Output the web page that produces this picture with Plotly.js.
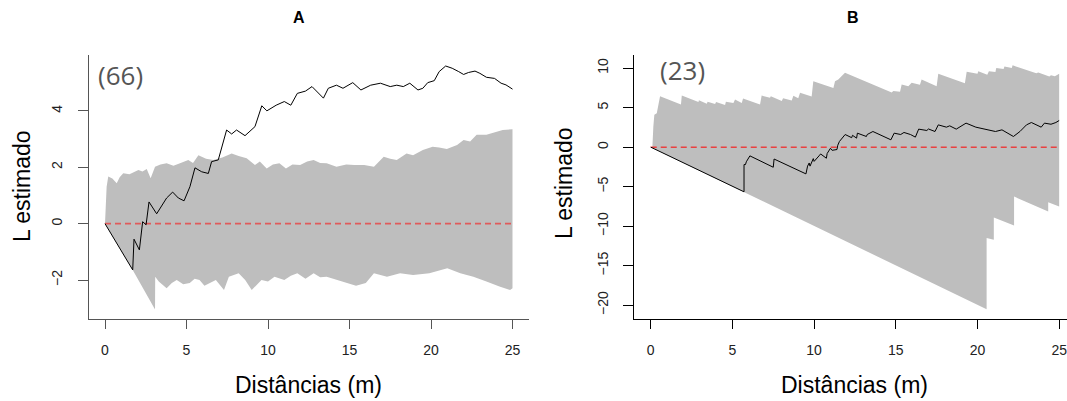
<!DOCTYPE html>
<html>
<head>
<meta charset="utf-8">
<script src="https://cdn.plot.ly/plotly-3.0.1.min.js"></script>
<style>html,body{margin:0;padding:0;background:#fff;}#chart{width:1067px;height:401px;}</style>
</head>
<body>
<div id="chart"></div>
<script>
// ---------- Panel A data ----------
const A_obs_x = [0,1.70,1.78,2.11,2.31,2.52,2.70,3.17,3.78,4.15,4.50,4.85,5.21,5.52,5.93,6.34,6.54,6.95,7.46,7.77,8.07,8.59,9.2,9.62,9.93,10.5,11.0,11.4,11.8,12.3,12.7,13.1,13.4,13.7,14.2,14.6,15.2,15.7,16.3,16.9,17.5,17.9,18.3,18.7,19.2,19.5,19.8,20.2,20.5,20.9,21.3,21.7,22.0,22.3,22.7,23.0,23.4,23.9,24.3,24.6,25];
const A_obs_y = [0,-1.64,-0.55,-0.93,0.07,-0.04,0.77,0.35,0.91,1.12,0.91,0.81,1.31,1.98,1.84,1.78,2.20,2.26,3.32,3.18,3.32,3.12,3.44,4.18,4.0,4.2,4.33,4.2,4.62,4.7,4.86,4.62,4.45,4.8,4.91,4.8,5.0,4.74,4.91,4.98,4.86,4.91,4.86,4.98,4.74,4.80,5.0,5.07,5.39,5.59,5.51,5.39,5.29,5.36,5.41,5.33,5.19,5.15,4.98,4.92,4.77];
const A_hi_x = [0,0.05,0.1,0.2,0.45,0.72,0.9,1.12,1.5,2.05,2.3,2.56,2.8,3.07,3.4,3.78,4.2,4.6,5.11,5.4,5.73,6.2,6.65,7.2,7.77,8.2,8.69,9.2,9.5,9.92,10.3,10.7,11.1,11.5,11.97,12.4,12.8,13.2,13.6,14.2,14.8,15.3,15.9,16.5,17.1,17.5,17.9,18.5,18.9,19.5,20.1,20.5,20.97,21.6,22.0,22.4,22.8,23.4,24.0,24.4,25];
const A_hi_y = [0,1.0,1.31,1.67,1.6,1.43,1.65,1.79,1.75,1.9,1.85,1.94,1.61,2.02,2.1,2.14,2.05,2.14,2.26,2.15,2.43,2.3,2.26,2.35,2.49,2.4,2.32,2.08,2.2,1.96,2.1,2.14,1.96,2.1,2.08,2.2,2.26,2.15,2.14,2.02,2.1,2.08,2.08,2.02,2.37,2.3,2.26,2.49,2.43,2.61,2.73,2.7,2.65,2.79,2.97,2.91,3.15,3.15,3.26,3.32,3.35];
const A_lo_x = [0,1.70,3.07,3.08,3.3,3.78,4.1,4.4,4.8,5.2,5.5,5.8,6.1,6.4,6.8,7.3,7.6,8.2,8.6,9.0,9.6,10.0,10.4,11.0,11.4,11.8,12.3,12.8,13.2,13.6,14.2,14.8,15.4,16.0,16.5,17.3,18.1,18.9,19.9,21.0,21.8,22.6,23.4,24.2,24.85,25];
const A_lo_y = [0,-1.64,-3.04,-1.88,-2.05,-2.29,-2.1,-2.0,-2.15,-2.1,-1.95,-2.0,-2.2,-2.1,-2.0,-2.35,-1.88,-1.76,-2.0,-2.35,-2.0,-2.05,-1.88,-2.0,-1.85,-1.76,-1.95,-1.76,-1.9,-1.88,-2.0,-2.1,-2.2,-2.1,-1.76,-1.88,-1.76,-1.82,-1.76,-1.58,-1.76,-1.88,-2.05,-2.23,-2.35,-2.29];

// ---------- Panel B data ----------
const B_obs_x = [0,5.71,5.71,5.8,5.85,6.07,7.5,7.55,9.5,9.6,9.7,9.75,9.95,10.0,10.3,10.4,10.75,10.8,11.0,11.1,11.4,11.45,11.55,11.9,12.3,12.35,12.6,12.65,13.2,13.25,13.6,14.2,14.7,14.9,15.3,15.5,15.9,16.2,16.4,16.9,17.0,17.4,17.6,18.1,18.3,18.7,19.3,19.9,20.6,21.1,21.5,22.2,22.6,23.0,23.3,23.9,24.1,24.5,24.8,25];
const B_obs_y = [0,-5.65,-2.2,-2.2,-1.85,-1.1,-2.54,-1.5,-3.38,-2.4,-2.0,-2.4,-1.45,-1.8,-1.1,-0.86,-1.4,-0.8,-0.14,-0.4,-0.3,0.25,0.72,1.6,1.2,1.5,1.14,1.77,1.35,1.6,1.98,1.35,0.93,1.77,1.6,1.86,1.6,1.27,2.28,2.11,2.3,1.98,2.82,2.53,2.7,2.28,3.04,2.53,2.19,1.98,2.19,1.35,1.98,2.82,3.12,2.53,3.04,2.9,3.12,3.37];
const B_hi_x = [0,0.1,0.16,0.22,0.37,0.57,1.85,1.9,2.92,2.95,3.43,3.48,3.94,4.0,4.55,4.6,5.06,5.16,5.57,5.65,6.69,6.79,7.3,7.35,8.02,8.1,8.63,8.73,9.03,9.14,9.85,9.95,11.18,11.28,11.48,11.89,14.75,14.85,15.26,15.36,15.77,15.97,16.48,16.58,17.5,17.6,19.23,19.34,20.0,20.05,20.6,20.7,21.1,21.15,21.6,21.65,22.1,22.15,23.6,23.72,24.4,24.5,24.74,24.95,25];
const B_hi_y = [0,0,2.6,4.1,4.3,6.45,5.39,6.53,5.7,5.95,5.5,5.75,5.45,5.7,5.35,5.75,5.6,6.03,5.6,6.16,5.39,6.53,6.25,6.45,5.85,6.2,5.9,6.5,6.2,6.87,6.4,8.35,7.5,8.35,8.56,9.4,6.9,7.1,7.0,7.93,7.72,8.14,7.9,8.56,7.72,9.28,8.1,9.53,9.3,9.6,9.15,9.6,9.5,10.0,9.9,10.2,10.0,10.35,9.36,9.45,8.94,9.1,8.98,9.28,9.3];
const B_lo_x = [0,20.56,20.56,21.0,21.0,22.24,22.24,24.33,24.33,25];
const B_lo_y = [0,-20.5,-11.5,-11.7,-8.9,-9.9,-6.25,-8.15,-6.97,-7.5];

const ref_x = [0,25];
const ref_y = [0,0];
const xTicks = [0,5,10,15,20,25];
const A_yTicks = [-2,0,2,4];
const B_yTicks = [-20,-15,-10,-5,0,5,10];
const panelTitles = ['A','B'];
const panelCounts = ['(66)','(23)'];
const xTitle = 'Distâncias (m)';
const yTitle = 'L estimado';

function poly(hx, hy, lx, ly){
  return {x: hx.concat(lx.slice().reverse()), y: hy.concat(ly.slice().reverse())};
}
const pA = poly(A_hi_x, A_hi_y, A_lo_x, A_lo_y);
const pB = poly(B_hi_x, B_hi_y, B_lo_x, B_lo_y);

const traces = [
  {x:pA.x, y:pA.y, xaxis:'x', yaxis:'y', type:'scatter', mode:'lines', fill:'toself', fillcolor:'#bebebe', line:{width:0, color:'#bebebe'}, hoverinfo:'skip'},
  {x:ref_x, y:ref_y, xaxis:'x', yaxis:'y', type:'scatter', mode:'lines', line:{color:'#e05a5a', width:1.6, dash:'6px,4px'}},
  {x:A_obs_x, y:A_obs_y, xaxis:'x', yaxis:'y', type:'scatter', mode:'lines', line:{color:'#000', width:1}},
  {x:pB.x, y:pB.y, xaxis:'x2', yaxis:'y2', type:'scatter', mode:'lines', fill:'toself', fillcolor:'#bebebe', line:{width:0, color:'#bebebe'}, hoverinfo:'skip'},
  {x:ref_x, y:ref_y, xaxis:'x2', yaxis:'y2', type:'scatter', mode:'lines', line:{color:'#ff0000', width:1, dash:'6px,4px'}},
  {x:B_obs_x, y:B_obs_y, xaxis:'x2', yaxis:'y2', type:'scatter', mode:'lines', line:{color:'#000', width:1}}
];

const W = 1067, H = 401;
const fx = p => p / W;
const fy = p => 1 - p / H;
const tickFont = {family:'Liberation Sans, Arial, sans-serif', size:14, color:'#222'};

function xax(d0, d1, range, anchor, col){
  return {domain:[fx(d0), fx(d1)], range:range, anchor:anchor, tickmode:'array', tickvals:xTicks,
    ticks:'outside', ticklen:9, tickwidth:1, tickcolor:col, showline:true, linecolor:col, linewidth:1,
    showgrid:false, zeroline:false, tickfont:tickFont, ticklabelstandoff:9, ticklabeloverflow:'allow', fixedrange:true};
}
function yax(range, ticks, anchor, col){
  return {domain:[fy(319), fy(55)], range:range, anchor:anchor, tickmode:'array', tickvals:ticks,
    ticks:'outside', ticklen:10, tickwidth:1, tickcolor:col, showline:true, linecolor:col, linewidth:1,
    showgrid:false, zeroline:false, tickfont:tickFont, tickangle:-90, ticklabelstandoff:10, fixedrange:true};
}

const titleFont = {family:'Liberation Sans, Arial, sans-serif', size:23, color:'#000'};
const countFont = {family:'Open Sans, sans-serif', size:26, color:'#555'};
const mainFont = {family:'Liberation Sans, Arial, sans-serif', size:16, color:'#000'};

function ann(text, px, py, font, angle){
  return {text:text, x:fx(px), y:fy(py), xref:'paper', yref:'paper', xanchor:'center', yanchor:'middle', showarrow:false, font:font, textangle:angle||0};
}

const layout = {
  width:W, height:H, margin:{l:0, r:0, t:0, b:0}, paper_bgcolor:'#fff', plot_bgcolor:'#fff', showlegend:false,
  xaxis: xax(88.7, 528.8, [-1, 26], 'y', '#555'),
  yaxis: yax([-3.38, 5.98], A_yTicks, 'x', '#555'),
  xaxis2: xax(634.4, 1067, [-1, 25.48], 'y2', '#000'),
  yaxis2: yax([-21.74, 11.66], B_yTicks, 'x2', '#000'),
  annotations: [
    ann('<b>'+panelTitles[0]+'</b>', 299, 17, mainFont),
    ann('<b>'+panelTitles[1]+'</b>', 853, 17, mainFont),
    ann(panelCounts[0], 120, 75, countFont),
    ann(panelCounts[1], 682, 70, countFont),
    ann(xTitle, 308.5, 385, titleFont),
    ann(xTitle, 854, 385, titleFont),
    ann(yTitle, 22, 186, titleFont, -90),
    ann(yTitle, 564, 183, titleFont, -90)
  ]
};

Plotly.newPlot('chart', traces, layout, {staticPlot:true, displayModeBar:false});
</script>
</body>
</html>
